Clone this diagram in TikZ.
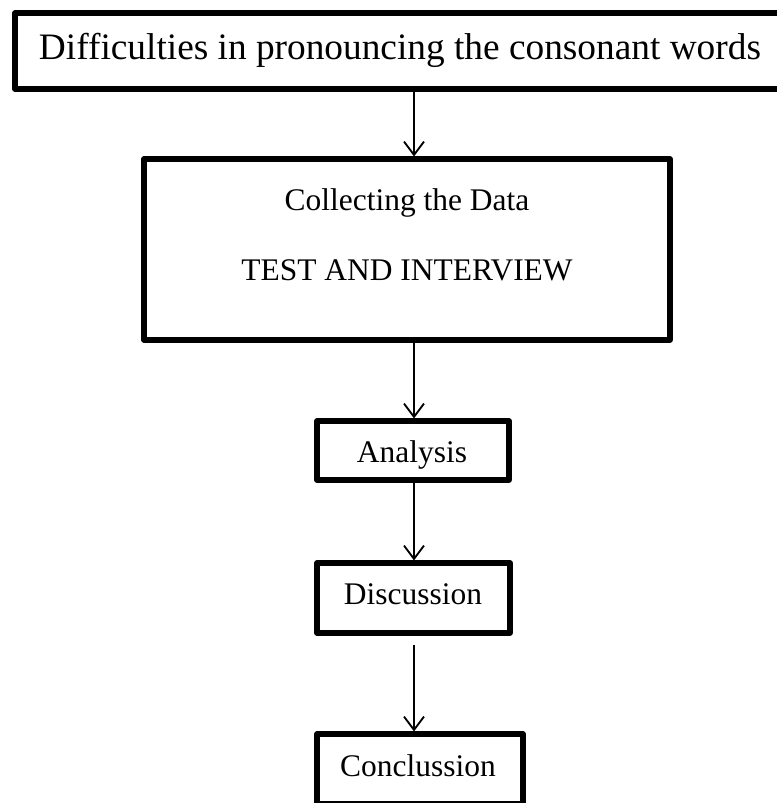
\documentclass[tikz,border=0pt]{standalone}
\usepackage{fontspec}
\setmainfont{Liberation Serif}
\usetikzlibrary{arrows.meta}

\begin{document}
\begin{tikzpicture}[x=0.75pt,y=-0.75pt,>={Straight Barb[length=10pt,width=15pt]},
  box/.style={draw,line width=3.8pt,line join=round,inner sep=0pt},
  flow/.style={->,line width=1.4pt},
  txt/.style={anchor=base,inner sep=0pt,font=\fontsize{23.6}{28}\selectfont}]
  \clip (0,0) rectangle (777,803);
  % boxes
  \node[box,minimum width=772*0.75pt,minimum height=76*0.75pt] (problem) at (401,51) {};
  \node[box,minimum width=526*0.75pt,minimum height=181*0.75pt] (data) at (407,249.5) {};
  \node[box,minimum width=192*0.75pt,minimum height=59*0.75pt] (analysis) at (413,450.5) {};
  \node[box,minimum width=193*0.75pt,minimum height=70*0.75pt] (discussion) at (413.5,598) {};
  \node[box,minimum width=206*0.75pt,minimum height=70*0.75pt] (conclusion) at (420,769) {};
  % texts
  \node[txt,font=\fontsize{28}{34}\selectfont] (problemtxt) at (400,59) {Difficulties in pronouncing the consonant words};
  \node[txt] (datatxt) at (407,210) {Collecting the Data};
  \node[txt] (testtxt) at (407,280) {TEST AND INTERVIEW};
  \node[txt] (analysistxt) at (412,462) {Analysis};
  \node[txt] (discussiontxt) at (413,604) {Discussion};
  \node[txt] (conclusiontxt) at (418,776) {Conclussion};
  % arrows
  \coordinate (axis) at (414,0);
  \draw[flow] (problem.south -| axis) -- (data.north -| axis);
  \draw[flow] (data.south -| axis) -- (analysis.north -| axis);
  \draw[flow] (analysis.south -| axis) -- (discussion.north -| axis);
  \draw[flow,shorten <=6.75pt] (discussion.south -| axis) -- (conclusion.north -| axis);
\end{tikzpicture}
\end{document}
